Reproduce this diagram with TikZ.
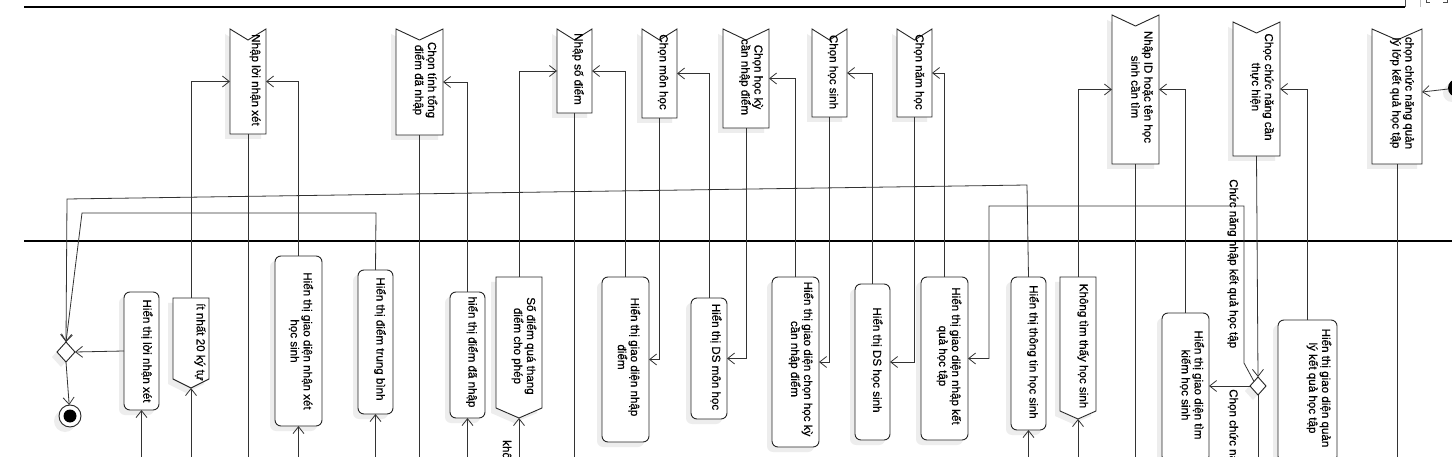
\documentclass[tikz,border=0pt]{standalone}
\usepackage{fontspec}
\setmainfont{Liberation Sans}
\newfontfamily\lblfont{Liberation Sans}[FakeBold=0.5]
\usetikzlibrary{shapes.geometric,arrows.meta,calc}

\tikzset{
  shd/.style={fill=black!7},
  boxf/.style={inner sep=0pt, outer sep=0pt},
  outline/.style={draw=black!85, line width=0.9pt, fill=white},
  lbl/.style={font=\lblfont\fontsize{11.6}{13}\selectfont, rotate=-90, align=center, inner sep=0pt, text=black},
  wire/.style={draw=black!80, line width=0.8pt},
  conn/.style={wire, -{Straight Barb[length=7pt,width=11pt]}},
  lane/.style={draw=black, line width=2pt},
}

% accept-event shape (notch at top): name x1 y1 x2 y2 tx ty text
\newcommand\AccEv[8]{%
  \pgfmathsetmacro\myW{#4-#2}\pgfmathsetmacro\myH{#5-#3}%
  \pgfmathsetmacro\myMx{(#2+#4)/2}\pgfmathsetmacro\myMy{(#3+#5)/2}%
  \fill[shd] (#2-5,#3+5) -- (\myMx-5,#3+16) -- (#4-5,#3+5) -- (#4-5,#5+5) -- (#2-5,#5+5) -- cycle;
  \node[boxf, minimum width=\myW pt, minimum height=\myH pt] (#1) at (\myMx,\myMy) {};
  \draw[outline] (#1.north west) -- ([yshift=-11pt]#1.north) -- (#1.north east) -- (#1.south east) -- (#1.south west) -- cycle;
  \node[lbl] at (#6,#7) {#8};
}
% rounded action: name x1 y1 x2 y2 tx ty text
\newcommand\Act[8]{%
  \pgfmathsetmacro\myW{#4-#2}\pgfmathsetmacro\myH{#5-#3}%
  \pgfmathsetmacro\myMx{(#2+#4)/2}\pgfmathsetmacro\myMy{(#3+#5)/2}%
  \fill[shd, rounded corners=6pt] (#2-5,#3+5) rectangle (#4-5,#5+5);
  \node[boxf, outline, rounded corners=6pt, minimum width=\myW pt, minimum height=\myH pt] (#1) at (\myMx,\myMy) {};
  \node[lbl] at (#6,#7) {#8};
}
% send-signal shape (point at bottom): name x1 y1 x2 yshoulder ypoint tx ty text
\newcommand\Send[9]{%
  \pgfmathsetmacro\myW{#4-#2}\pgfmathsetmacro\myH{#6-#3}%
  \pgfmathsetmacro\myMx{(#2+#4)/2}\pgfmathsetmacro\myMy{(#3+#6)/2}%
  \fill[shd] (#2-5,#3+5) -- (#4-5,#3+5) -- (#4-5,#5+5) -- (\myMx-5,#6+5) -- (#2-5,#5+5) -- cycle;
  \node[boxf, minimum width=\myW pt, minimum height=\myH pt] (#1) at (\myMx,\myMy) {};
  \draw[outline] (#2,#3) -- (#4,#3) -- (#4,#5) -- (\myMx,#6) -- (#2,#5) -- cycle;
  \node[lbl] at (#7,#8) {#9};
}

\begin{document}
\begin{tikzpicture}[x=1pt,y=-1pt]
\useasboundingbox (0,0) rectangle (1452,457);
\fill[white] (0,0) rectangle (1452,457);

% swimlane lines and top-right frame remnants
\draw[lane] (24,7) -- (1405,7);
\draw[lane] (24,241.5) -- (1452,241.5);
\draw[draw=black!70, line width=0.8pt] (1405,0) -- (1405,7);
\draw[draw=black!25, line width=0.8pt] (1420,0) -- (1420,7);
\draw[draw=black!70, line width=0.8pt] (1426,0) -- (1426,2) -- (1430,2) (1443,2) -- (1447,2) -- (1447,0);

\coordinate (bot) at (0,458);

% ---- upper lane: accept events
\AccEv{A1}{230}{29}{266}{134}{255}{80}{Nhập lời nhận xét}
\AccEv{A2}{396}{29}{443}{135}{425}{80}{Chọn tính tổng\\điểm đã nhập}
\AccEv{A3}{557}{29}{592}{113}{578}{69}{Nhập số điểm}
\AccEv{A4}{642}{29}{677}{118}{663}{72}{Chọn môn học}
\AccEv{A5}{723}{29}{769}{128}{751}{77}{Chọn học kỳ\\cần nhập điểm}
\AccEv{A6}{812}{29}{847}{117}{833}{72}{Chọn học sinh}
\AccEv{A7}{897}{29}{932}{117}{919}{72}{Chọn năm học}
\AccEv{A8}{1112}{15}{1159}{164}{1142}{87}{Nhập ID hoặc tên học\\sinh cần tìm}
\AccEv{A9}{1233}{22}{1280}{156}{1262}{87}{Chọc chức năng cần\\thực hiện}
\AccEv{A10}{1372}{29}{1422}{164}{1402}{93}{chọn chức năng quản\\lý lớp kết quả học tập}

% ---- lower lane
\Act{B1}{124}{292}{159}{410}{147}{351}{Hiển thị lời nhận xét}
\Send{B2}{173}{298}{209}{379}{388}{200}{342}{ít nhất 20 ký tự}
\Act{B3}{275}{256}{322}{426}{301}{341}{Hiển thị giao diện nhận xét\\học sinh}
\Act{B4}{358}{270}{393}{414}{380}{339}{Hiển thị điểm trung bình}
\Act{B5}{450}{292}{485}{418}{472}{352}{hiển thị điểm đã nhập}
\Send{B6}{496}{277}{542}{408}{418}{524}{346}{Số điểm quá thang\\điểm cho phép}
\Act{B7}{602}{277}{649}{442}{629}{357}{Hiển thị giao diện nhập\\điểm}
\Act{B8}{691}{298}{727}{419}{716}{357}{Hiển thị DS môn học}
\Act{B9}{772}{277}{819}{447}{801}{359}{Hiển thị giao diện chọn học kỳ\\cần nhập điểm}
\Act{B10}{855}{284}{890}{440}{877}{360}{Hiển thị DS học sinh}
\Act{B11}{921}{277}{968}{440}{949}{356}{Hiển thị giao diện nhập kết\\quả học tập}
\Act{B12}{1011}{277}{1046}{430}{1033}{352}{Hiển thị thông tin học sinh}
\Send{B13}{1060}{277}{1096}{411}{419}{1083}{346}{Không tìm thấy học sinh}
\Act{B14}{1162}{313}{1209}{462}{1192}{385}{Hiển thị giao diện tìm\\kiếm học sinh}
\Act{B15}{1278}{320}{1337}{462}{1319}{388}{Hiển thị giao diện quản\\lý kết quả học tập}

% decisions, initial and final nodes
\fill[shd] (61,347) -- (70,357) -- (61,367) -- (52,357) -- cycle;
\node[diamond, boxf, outline, minimum width=18pt, minimum height=20pt] (D1) at (66,352) {};
\fill[shd] (1253,382) -- (1261,391) -- (1253,400) -- (1245,391) -- cycle;
\node[diamond, boxf, outline, minimum width=16pt, minimum height=18pt] (D2) at (1258,386) {};
\fill[shd] (65,421) circle (11);
\node[circle, boxf, outline, minimum size=22pt] (F) at (70,416) {};
\fill[black] (F.center) circle (6.5);
\fill[shd] (1452,93) circle (9);
\node[circle, boxf, fill=black, minimum size=18pt] (I) at (1457,88) {};

% bend points
\coordinate (k1) at (1027,185);
\coordinate (k2) at (67,199);
\coordinate (k3) at (376,213);
\coordinate (k4) at (82,213);
\coordinate (k5) at (1244,363);
\coordinate (k6) at (1244,206);
\coordinate (k7) at (989,206);

% ---- connectors
\draw[conn] (I) -- ([yshift=4.5pt]A10.east);
\draw[wire] (A10.south) -- (A10.south |- bot);
\draw[conn] (A9.south) -- (D2.north);
\draw[conn] (B15.north) |- (A9.east);
\draw[conn] (D2.west) -- (D2.west -| B14.east);
\draw[conn] (D2.north west) -- (k5) -- (k6) -- (k7) |- (B11.east);
\draw[wire] (D2.south) -- (D2.south |- bot);
\draw[wire] (A8.south) -- (A8.south |- bot);
\draw[conn] (B14.north) |- (A8.east);
\draw[conn] (B13.north) |- (A8.west);
\draw[conn] (B13.south |- bot) -- (B13.south);
\draw[conn] (B12.north) -- (k1) -- (k2) -- (D1.north);
\draw[conn] (B12.south |- bot) -- (B12.south);
\draw[conn] (A7.south) |- (B10.east);
\draw[conn] (B11.north) |- (A7.east);
\draw[conn] (A6.south) |- (B9.east);
\draw[conn] (B10.north) |- (A6.east);
\draw[conn] (A5.south) |- (B8.east);
\draw[conn] (B9.north) |- (A5.east);
\draw[conn] (A4.south) |- (B7.east);
\draw[conn] (B8.north) |- (A4.east);
\draw[conn] (B7.north) |- (A3.east);
\draw[conn] (B6.north) |- (A3.west);
\draw[wire] (A3.south) -- (A3.south |- bot);
\draw[conn] (B6.south |- bot) -- (B6.south);
\draw[conn] (B5.south |- bot) -- (B5.south);
\draw[conn] (B5.north) |- (A2.east);
\draw[wire] (A2.south) -- (A2.south |- bot);
\draw[conn] (B4.south |- bot) -- (B4.south);
\draw[conn] (B4.north) -- (k3) -- (k4) -- (D1.north);
\draw[conn] (B3.south |- bot) -- (B3.south);
\draw[conn] (B3.north) |- (A1.east);
\draw[wire] (A1.south) -- (A1.south |- bot);
\draw[conn] (B2.south |- bot) -- (B2.south);
\draw[conn] (B2.north) |- (A1.west);
\draw[conn] (B1.south |- bot) -- (B1.south);
\draw[conn] (B1.west) -- (D1.east);
\draw[conn] (D1.south) -- (F);

% guard labels
\node[lbl, anchor=west] at (1233,179) {Chức năng nhập kết quả học tập};
\node[lbl, anchor=west] at (1233,389) {Chọn chức nă};
\node[lbl, anchor=west] at (507,440) {khô};
\end{tikzpicture}
\end{document}
